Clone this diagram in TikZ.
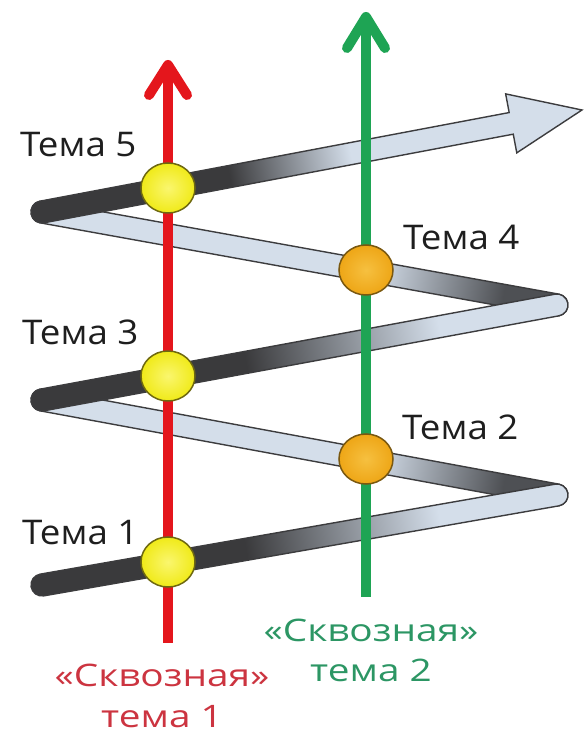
\documentclass[tikz,border=0pt]{standalone}
\usepackage{fontspec}
\setmainfont{Open Sans}[FakeStretch=1.08]
\newfontfamily\widefont{Open Sans}[FakeStretch=1.25]
\usetikzlibrary{shapes.geometric}
\definecolor{bdark}{RGB}{58,58,60}
\definecolor{bbackdark}{RGB}{78,80,84}
\definecolor{blight}{RGB}{212,222,234}
\definecolor{bedge}{RGB}{60,60,62}
\definecolor{redline}{RGB}{228,22,28}
\definecolor{grnline}{RGB}{30,164,84}
\definecolor{redtxt}{RGB}{204,52,64}
\definecolor{grntxt}{RGB}{44,150,100}
\definecolor{labelgray}{RGB}{30,30,30}
\definecolor{yelfill}{RGB}{240,234,24}
\definecolor{yelin}{RGB}{250,246,110}
\definecolor{yeledge}{RGB}{110,104,16}
\definecolor{orfill}{RGB}{238,166,22}
\definecolor{orin}{RGB}{246,192,64}
\definecolor{oredge}{RGB}{122,88,16}
\pgfdeclarehorizontalshading{frontA}{100bp}{color(0bp)=(bdark); color(45bp)=(bdark); color(63bp)=(blight); color(100bp)=(blight)}
\pgfdeclarehorizontalshading{frontC}{100bp}{color(0bp)=(bdark); color(43bp)=(bdark); color(54bp)=(blight); color(100bp)=(blight)}
\pgfdeclarehorizontalshading{backA}{100bp}{color(0bp)=(blight); color(57bp)=(blight); color(69bp)=(bbackdark); color(100bp)=(bbackdark)}
\newcommand\zzband[5]{%
  \pgfmathsetmacro\zzang{atan2((#4)-(#2),(#3)-(#1))}%
  \pgfmathsetmacro\zzlen{veclen((#3)-(#1),(#4)-(#2))}%
  \begin{scope}[transform canvas={shift={(#1,#2)},rotate=\zzang}]
    \shade[shading=#5, draw=bedge, line width=1.4pt, rounded corners=11pt] (-11,-11) rectangle (\zzlen+11,11);
  \end{scope}}
\tikzset{
  tema/.style={font=\fontsize{34}{36}\selectfont, text=labelgray, anchor=base west, inner sep=0pt},
  redlbl/.style={font=\widefont\fontsize{31}{34}\selectfont, text=redtxt, anchor=base, inner sep=0pt},
  grnlbl/.style={font=\widefont\fontsize{31}{34}\selectfont, text=grntxt, anchor=base, inner sep=0pt},
  thread/.style={line width=10pt, line cap=butt},
  chevron/.style={line width=10pt, line cap=round, line join=round},
  ydot/.style={ellipse, minimum width=54pt, minimum height=50pt, inner sep=0pt, draw=yeledge, line width=1.5pt, inner color=yelin, outer color=yelfill},
  odot/.style={ellipse, minimum width=54pt, minimum height=50pt, inner sep=0pt, draw=oredge, line width=1.5pt, inner color=orin, outer color=orfill}
}
\begin{document}
\begin{tikzpicture}[x=1pt,y=1pt]
\useasboundingbox (0,0) rectangle (586,734);
% zigzag turning points
\coordinate (p0) at (42,149);
\coordinate (p1) at (557,239);
\coordinate (p2) at (42,334);
\coordinate (p3) at (557,429);
\coordinate (p4) at (42,522);
% back bands
\zzband{42}{334}{557}{239}{backA}
\zzband{42}{522}{557}{429}{backA}
% front bands
\zzband{42}{149}{557}{239}{frontA}
\zzband{42}{334}{557}{429}{frontA}
% final arrow
\pgfmathsetmacro\zzang{atan2(624-522,582-42)}
\pgfmathsetmacro\zzlen{veclen(582-42,624-522)}
\pgfmathsetmacro\zzhead{\zzlen-72}
\begin{scope}[transform canvas={shift={(42,522)},rotate=\zzang}]
  \shade[shading=frontC, draw=bedge, line width=1.4pt, line join=miter]
    (\zzhead,11) -- (0,11) arc[start angle=90,end angle=270,radius=11] -- (\zzhead,-11)
    -- (\zzhead,-30) -- (\zzlen,0) -- (\zzhead,30) -- cycle;
\end{scope}
% red thread
\coordinate (r0) at (168,91);
\coordinate (r1) at (168,669);
\coordinate (rl) at (149,639);
\coordinate (rr) at (187,639);
\draw[thread, redline] (r0) -- (r1);
\draw[chevron, redline] (rl) -- (r1) -- (rr);
% green thread
\coordinate (g0) at (366,137);
\coordinate (g1) at (366,717);
\coordinate (gl) at (347,686);
\coordinate (gr) at (385,686);
\draw[thread, grnline] (g0) -- (g1);
\draw[chevron, grnline] (gl) -- (g1) -- (gr);
% topic dots
\node[ydot] (d5) at (168,546) {};
\node[ydot] (d3) at (168,358) {};
\node[ydot] (d1) at (168,172) {};
\node[odot] (d4) at (366,464) {};
\node[odot] (d2) at (366,275) {};
% labels
\node[tema] (t5) at (20,577) {Тема 5};
\node[tema] (t3) at (22,389) {Тема 3};
\node[tema] (t1) at (22,189) {Тема 1};
\node[tema] (t4) at (403,484) {Тема 4};
\node[tema] (t2) at (402,294) {Тема 2};
\node[redlbl] (s1a) at (162,47) {«Сквозная»};
\node[redlbl] (s1b) at (162,6) {тема 1};
\node[grnlbl] (s2a) at (371,92) {«Сквозная»};
\node[grnlbl] (s2b) at (371,52) {тема 2};
\end{tikzpicture}
\end{document}
